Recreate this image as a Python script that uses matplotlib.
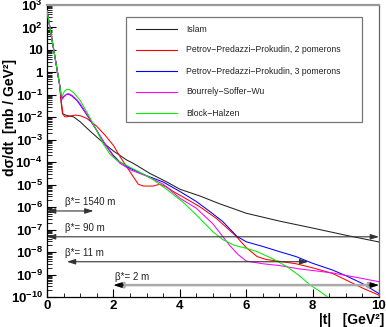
import numpy as np
import matplotlib
matplotlib.use('Agg')
import matplotlib.pyplot as plt
from matplotlib.lines import Line2D
from matplotlib.patches import Rectangle
from matplotlib.transforms import Affine2D
from matplotlib.ticker import FixedLocator, FuncFormatter, LogLocator, NullFormatter, MultipleLocator

plt.rcParams['font.family'] = ['Liberation Sans', 'DejaVu Sans']
plt.rcParams['mathtext.fontset'] = 'custom'
plt.rcParams['mathtext.rm'] = 'Liberation Sans'
plt.rcParams['mathtext.bf'] = 'Liberation Sans:bold'
plt.rcParams['mathtext.it'] = 'Liberation Sans:italic'

# ---------------- data (|t| in GeV^2, log10 of dsigma/dt in mb/GeV^2) -------------
models = ["Islam",
          "Petrov\u2212Predazzi\u2212Prokudin, 2 pomerons",
          "Petrov\u2212Predazzi\u2212Prokudin, 3 pomerons",
          "Bourrely\u2212Soffer\u2212Wu",
          "Block\u2212Halzen"]
colors = ["#222222", "#ff0000", "#0000ff", "#ff00ff", "#00ee00"]

islam_t = [0, 0.2, 0.38, 0.43, 0.47, 0.6, 0.8, 1.0, 1.25, 1.5, 1.75, 2.0, 2.4, 2.6,
           3.1, 3.6, 4.0, 4.6, 5.2, 6.0, 7.0, 8.0, 9.0, 10.0]
islam_log = [2.75, 1.03, -0.55, -1.4, -1.85, -1.92, -1.98, -2.2, -2.55, -2.88, -3.2, -3.5,
             -3.9, -4.05, -4.5, -4.87, -5.2, -5.5, -5.85, -6.27, -6.62, -6.93, -7.25, -7.55]

ppp2_t = [0, 0.2, 0.38, 0.43, 0.48, 0.53, 0.6, 0.7, 0.85, 1.0, 1.2, 1.5, 1.75, 2.0, 2.2,
          2.4, 2.6, 2.75, 2.9, 3.2, 3.4, 3.6, 3.8, 4.1, 4.6, 5.1, 5.7, 6.0, 6.33, 6.6,
          6.8, 7.5, 8.0, 8.6, 9.5, 10.0]
ppp2_log = [2.75, 1.03, -0.55, -1.3, -1.85, -1.97, -1.98, -1.94, -1.9, -1.93, -2.05, -2.4,
            -2.8, -3.25, -3.75, -4.2, -4.65, -4.98, -5.06, -5.06, -4.98, -5.1, -5.3, -5.55,
            -5.98, -6.5, -7.3, -7.8, -8.2, -8.33, -8.37, -8.52, -8.7, -8.95, -9.6, -9.92]

ppp3_t = [0, 0.2, 0.38, 0.42, 0.46, 0.5, 0.59, 0.65, 0.75, 0.9, 1.0, 1.25, 1.5, 1.75, 2.0,
          2.2, 2.5, 3.0, 3.5, 4.0, 4.5, 5.0, 5.3, 5.72, 6.0, 6.5, 7.0, 7.5, 8.0, 8.6, 9.0,
          9.5, 10.0]
ppp3_log = [2.75, 1.03, -0.55, -0.95, -1.15, -1.08, -0.98, -0.97, -1.05, -1.25, -1.45, -2.0,
            -2.6, -3.2, -3.7, -4.0, -4.27, -4.6, -4.88, -5.3, -5.75, -6.3, -6.65, -7.3, -7.54,
            -7.75, -7.98, -8.2, -8.5, -8.8, -9.05, -9.4, -9.85]

bsw_t = [0, 0.2, 0.38, 0.42, 0.46, 0.5, 0.6, 0.66, 0.75, 0.9, 1.0, 1.25, 1.5, 1.75, 2.0,
         2.2, 2.5, 3.0, 3.5, 4.0, 4.5, 5.0, 5.5, 5.75, 6.0, 6.5, 7.0, 7.6, 8.0, 8.6, 9.3, 10.0]
bsw_log = [2.75, 1.03, -0.55, -1.0, -1.2, -1.1, -0.96, -0.95, -1.02, -1.22, -1.4, -1.97,
           -2.58, -3.2, -3.75, -4.05, -4.33, -4.62, -4.98, -5.6, -6.05, -6.75, -7.7, -8.1,
           -8.4, -8.52, -8.6, -8.75, -8.82, -8.93, -9.12, -9.32]

bh_t = [0, 0.2, 0.38, 0.42, 0.46, 0.52, 0.6, 0.68, 0.8, 1.0, 1.25, 1.5, 1.7, 1.9, 2.1,
        2.3, 2.6, 3.1, 3.6, 4.1, 4.5, 5.0, 5.3, 5.63, 6.0, 6.33, 6.8, 7.23, 7.6, 7.93,
        8.2, 8.45, 8.6]
bh_log = [2.75, 1.03, -0.55, -0.95, -1.05, -0.85, -0.75, -0.77, -0.9, -1.25, -1.9, -2.6,
          -3.2, -3.65, -3.9, -4.07, -4.3, -4.68, -5.2, -5.78, -6.35, -7.1, -7.45, -7.69,
          -7.83, -7.98, -8.3, -8.65, -9.05, -9.47, -9.73, -10.0, -10.15]

series_t = [islam_t, ppp2_t, ppp3_t, bsw_t, bh_t]
series_log = [islam_log, ppp2_log, ppp3_log, bsw_log, bh_log]

# beta* acceptance arrows: label, |t| range, log10 level
beta_labels = ["\u03b2*= 1540 m", "\u03b2*= 90 m", "\u03b2*= 11 m", "\u03b2*= 2 m"]
beta_tmin = [0.0, 0.0, 0.6, 2.0]
beta_tmax = [1.4, 10.0, 7.87, 10.0]
beta_level = [-6.17, -7.32, -8.43, -9.47]

# ---------------- figure ----------------
W, H = 386, 327
fig = plt.figure(figsize=(W / 100, H / 100), dpi=100)
fig.patch.set_facecolor('white')
ax = fig.add_axes([47 / W, 1 - 297 / H, (379 - 47) / W, (297 - 5) / H])
px = Affine2D().scale(1 / W, -1 / H).translate(0, 1) + fig.transFigure

for t, lg, c in zip(series_t, series_log, colors):
    ax.plot(t, 10.0 ** np.array(lg), color=c, lw=0.75, zorder=3)

ax.set_yscale('log')
ax.set_xlim(0, 10)
ax.set_ylim(1e-10, 1e3)

ax.xaxis.set_major_locator(MultipleLocator(2))
ax.xaxis.set_minor_locator(MultipleLocator(0.5))
ax.yaxis.set_major_locator(FixedLocator([10.0 ** e for e in range(-10, 4)]))
ax.yaxis.set_minor_locator(LogLocator(base=10, subs=np.arange(2, 10), numticks=100))
ax.yaxis.set_minor_formatter(NullFormatter())


def yfmt(v, pos):
    e = int(round(np.log10(v)))
    if e == 0:
        return '1'
    if e == 1:
        return '10'
    return r'$\mathbf{10^{%d}}$' % e


ax.yaxis.set_major_formatter(FuncFormatter(yfmt))
ax.xaxis.set_major_formatter(FuncFormatter(lambda v, p: '%d' % round(v)))

ax.tick_params(axis='y', which='major', direction='in', length=6.5, width=0.8,
               labelsize=9.5, pad=3, right=False)
ax.tick_params(axis='y', which='minor', direction='in', length=3.5, width=0.6, right=False)
ax.tick_params(axis='x', which='major', direction='in', length=6, width=0.8,
               labelsize=9.5, pad=2, top=False, colors='black')
ax.tick_params(axis='x', which='minor', direction='in', length=3, width=0.6, top=False)
for lbl in ax.get_xticklabels() + ax.get_yticklabels():
    lbl.set_fontweight('bold')

ax.spines['top'].set_color('#999999')
ax.spines['top'].set_linewidth(1.6)
ax.spines['right'].set_color('#666666')
ax.spines['right'].set_linewidth(0.9)
ax.spines['left'].set_linewidth(0.9)
ax.spines['bottom'].set_linewidth(0.9)

# beta* arrows
for lab, t0, t1, lv, i in zip(beta_labels, beta_tmin, beta_tmax, beta_level, range(4)):
    col = '#aaaaaa' if i == 3 else '#333333'
    lw = 1.8 if i == 3 else 0.8
    ax.annotate('', xy=(t1, 10.0 ** lv), xytext=(t0, 10.0 ** lv),
                arrowprops=dict(arrowstyle='<|-|>,head_length=0.5,head_width=0.16',
                                color=col, lw=lw, shrinkA=0, shrinkB=0,
                                mutation_scale=10),
                annotation_clip=False, zorder=4)
    if i == 3:
        for tt, d in ((t0, 1), (t1, -1)):
            ax.annotate('', xy=(tt, 10.0 ** lv), xytext=(tt + d * 0.3, 10.0 ** lv),
                        arrowprops=dict(arrowstyle='-|>,head_length=0.5,head_width=0.16',
                                        color='black', lw=0.8, shrinkA=0, shrinkB=0,
                                        mutation_scale=10),
                        annotation_clip=False, zorder=5)
    tx = 2.05 if i == 3 else 0.54
    ax.text(tx, 10.0 ** (lv + 0.38), lab, fontsize=7, ha='left', va='center',
            color='#222222', zorder=5)

# legend (ROOT style box)
fig.add_artist(Rectangle((126, 17), 236, 105, transform=px, facecolor='white',
                         edgecolor='#777777', lw=0.9, zorder=6))
rows = [29, 50, 71, 92, 113]
for name, c, r in zip(models, colors, rows):
    fig.add_artist(Line2D([136, 177], [r, r], transform=px, color=c, lw=0.8, zorder=7))
    fig.text(186, r, name, transform=px, fontsize=6.2, ha='left', va='center',
             color='#222222', zorder=7)

# axis titles
fig.text(10, 118, 'd\u03c3/dt  [mb / GeV\u00b2]', transform=px, rotation=90,
         fontsize=10, fontweight='bold', ha='center', va='center')
fig.text(384, 320, '|t|   [GeV\u00b2]', transform=px, fontsize=10, fontweight='bold',
         ha='right', va='center')

fig.savefig('out.png', dpi=100)
